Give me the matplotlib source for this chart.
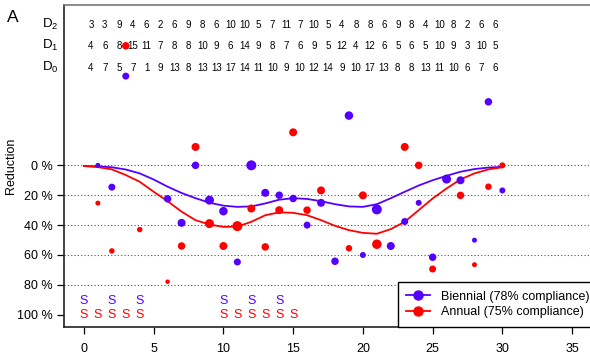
import matplotlib
matplotlib.use("Agg")
import matplotlib.pyplot as plt
from matplotlib.lines import Line2D

plt.rcParams['font.family'] = ['Liberation Sans', 'DejaVu Sans']
plt.rcParams['mathtext.default'] = 'regular'

BLUE = '#5500ff'
RED = '#ff0000'

# counts shown above the plot, one per interval
d2 = [3, 3, 9, 4, 6, 2, 6, 9, 8, 6, 10, 10, 5, 7, 11, 7, 10, 5, 4, 8, 8, 6, 9, 8, 4, 10, 8, 2, 6, 6]
d1 = [4, 6, 8, 15, 11, 7, 8, 8, 10, 9, 6, 14, 9, 8, 7, 6, 9, 5, 12, 4, 12, 6, 5, 6, 5, 10, 9, 3, 10, 5]
d0 = [4, 7, 5, 7, 1, 9, 13, 8, 13, 13, 17, 14, 11, 10, 9, 10, 12, 14, 9, 10, 17, 13, 8, 8, 13, 11, 10, 6, 7, 6]

# biennial points (reduction in %)
bi_x = [1, 2, 3, 6, 7, 8, 9, 10, 11, 12, 13, 14, 15, 16, 17, 18, 19, 20, 21, 22, 23, 24, 25, 26, 27, 28, 29, 30]
bi_y = [0, 14.6, -59.7, 22.4, 38.5, 0, 23.3, 30.7, 64.7, 0, 18.4, 20, 22.2, 40, 25.1, 64.2, -33.3, 60,
        29.5, 54, 37.6, 25.1, 61.5, 9.2, 10, 50.1, -42.5, 16.8]
bi_d = [5, 7, 7, 7.5, 8, 7.5, 9, 8.5, 7, 10, 8, 7.5, 7.5, 7, 8, 7.5, 8.5, 6, 10, 8, 7, 6, 7.5, 9, 8, 5, 7.5, 6]

# annual points
an_x = [1, 2, 3, 4, 6, 7, 8, 9, 10, 11, 12, 13, 14, 15, 16, 17, 19, 20, 21, 23, 24, 25, 27, 28, 29, 30]
an_y = [25.3, 57.3, -80, 43, 77.9, 54, -12.3, 39, 54, 40.7, 28.9, 54.6, 30, -22.1, 30, 16.8, 55.5, 20.1,
        52.8, -12.3, 0, 69.4, 20.1, 66.5, 14.3, 0]
an_d = [5, 5.5, 7.5, 5.5, 4.5, 7.5, 8, 9, 8, 10, 8, 7.5, 8, 8, 7.5, 8, 6.5, 8, 9.5, 8, 7.5, 7, 7.5, 5, 6.5, 6]

# smoothed curves
curve_x = list(range(31))
bi_curve = [0.5, 0.7, 1.3, 2.8, 5.4, 9.5, 14.3, 18.5, 22, 25, 27, 27.8, 27.5, 25.5, 23, 22, 22.5, 24, 26,
            27.5, 27.8, 26, 22, 17.7, 13.5, 10, 7, 4.3, 2.5, 1.5, 1]
an_curve = [0.5, 1.2, 2.7, 6.5, 11, 17.7, 24, 31, 36.7, 39.6, 41.2, 41, 37.8, 33.4, 31.5, 31.8, 33.4, 36.7,
            40.5, 43.4, 45.2, 45.8, 42.7, 37.8, 30, 22.2, 15.5, 9.4, 5.4, 2.7, 1.3]

# "S" markers
bi_s = [0, 2, 4, 10, 12, 14]
an_s = [0, 1, 2, 3, 4, 10, 11, 12, 13, 14, 15]

W, H = 590, 356
fig = plt.figure(figsize=(W / 100, H / 100), dpi=100)
ax = fig.add_axes([64 / W, (H - 326.7) / H, (600 - 64) / W, (326.7 - 5) / H])
ax.set_xlim(-1.43, 37.0)
ax.set_ylim(108.0, -107.3)

for g in [0, 20, 40, 60, 80]:
    ax.axhline(g, color='#555555', ls=(0, (1, 2)), lw=0.8, zorder=1)

ax.plot(curve_x, bi_curve, color=BLUE, lw=1.3, zorder=2)
ax.plot(curve_x, an_curve, color=RED, lw=1.3, zorder=2)

ax.scatter(bi_x, bi_y, s=[(d * 0.72) ** 2 for d in bi_d], color=BLUE, lw=0, zorder=3)
ax.scatter(an_x, an_y, s=[(d * 0.72) ** 2 for d in an_d], color=RED, lw=0, zorder=3)

for xs in bi_s:
    ax.text(xs, 91, 'S', color=BLUE, fontsize=9, ha='center', va='center')
for xs in an_s:
    ax.text(xs, 100, 'S', color=RED, fontsize=9, ha='center', va='center')

rows = [(d2, -94.2, '$D_2$'), (d1, -80, '$D_1$'), (d0, -65.3, '$D_0$')]
for vals, yy, lab in rows:
    for i, v in enumerate(vals):
        ax.text(i + 0.5, yy, str(v), fontsize=7, ha='center', va='center', zorder=2)
    ax.text(-2.4, yy, lab, fontsize=9.5, ha='center', va='center')

ax.text(-5.1, -99, 'A', fontsize=12.5, ha='center', va='center')

ax.set_xticks([0, 5, 10, 15, 20, 25, 30, 35])
ax.set_yticks([0, 20, 40, 60, 80, 100])
ax.set_yticklabels(['0 %', '20 %', '40 %', '60 %', '80 %', '100 %'])
ax.tick_params(axis='both', length=5, width=0.9, labelsize=9)
ax.tick_params(axis='x', pad=6.5)
ax.tick_params(axis='y', pad=3)
ax.set_ylabel('Reduction', fontsize=9)
ax.yaxis.set_label_coords((17 - 64) / 536, 0.5)

for sp in ['left', 'bottom']:
    ax.spines[sp].set_linewidth(1.2)
    ax.spines[sp].set_color('#222222')
ax.spines['top'].set_color('#777777')
ax.spines['top'].set_linewidth(1.2)
ax.spines['right'].set_visible(False)

handles = [Line2D([], [], color=BLUE, marker='o', ms=6.5, lw=1.3),
           Line2D([], [], color=RED, marker='o', ms=6.5, lw=1.3)]
leg = ax.legend(handles, ['Biennial (78% compliance)', 'Annual (75% compliance)'],
                loc='lower left', bbox_to_anchor=(0.6226, 0), borderaxespad=0,
                fontsize=9, frameon=True, fancybox=False, framealpha=1,
                edgecolor='black', handlelength=1.9, handletextpad=0.9,
                labelspacing=0.25, borderpad=0.7)
leg.get_frame().set_linewidth(1.0)

fig.savefig('out.png', dpi=100)
